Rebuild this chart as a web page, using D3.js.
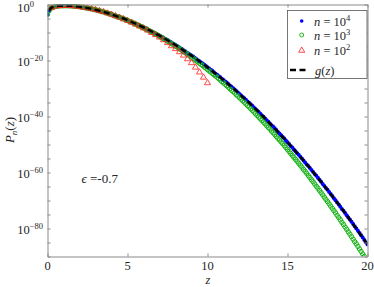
<!DOCTYPE html>
<html>
<head>
<meta charset="utf-8">
<script src="https://cdn.jsdelivr.net/npm/d3@7"></script>
<style>
  body { margin: 0; background: #fff; }
  svg { display: block; }
  text { font-family: "Liberation Serif", "DejaVu Serif", serif; fill: #262626; }
</style>
</head>
<body>
<div id="chart"></div>
<script>
// log10 of P_n(z)
// n = 10^4, z = 0 .. 20 step 0.1 (one row per unit of z)
var blueLog = [
  -3.6,-2.2,-1.4,-1.0,-0.8,-0.65,-0.56,-0.5,-0.47,-0.45,
  -0.44,-0.43,-0.43,-0.44,-0.46,-0.49,-0.53,-0.58,-0.64,-0.71,
  -0.8,-0.89,-0.98,-1.07,-1.17,-1.28,-1.39,-1.51,-1.63,-1.76,
  -1.9,-2.04,-2.18,-2.34,-2.49,-2.65,-2.82,-2.99,-3.16,-3.34,
  -3.53,-3.7,-3.9,-4.1,-4.3,-4.5,-4.7,-4.9,-5.2,-5.4,
  -5.6,-5.9,-6.1,-6.3,-6.6,-6.8,-7.1,-7.3,-7.6,-7.9,
  -8.2,-8.4,-8.7,-9.0,-9.3,-9.6,-9.9,-10.2,-10.5,-10.8,
  -11.1,-11.4,-11.7,-12.1,-12.4,-12.7,-13.1,-13.4,-13.8,-14.1,
  -14.5,-14.8,-15.2,-15.6,-15.9,-16.3,-16.7,-17.1,-17.5,-17.9,
  -18.2,-18.6,-19.0,-19.5,-19.9,-20.3,-20.7,-21.1,-21.5,-22.0,
  -22.4,-22.9,-23.3,-23.7,-24.2,-24.7,-25.1,-25.6,-26.0,-26.5,
  -27.0,-27.5,-27.9,-28.4,-28.9,-29.4,-29.9,-30.4,-30.9,-31.4,
  -32.0,-32.5,-33.0,-33.5,-34.0,-34.6,-35.1,-35.6,-36.2,-36.8,
  -37.3,-37.9,-38.4,-39.0,-39.6,-40.1,-40.7,-41.3,-41.9,-42.5,
  -43.1,-43.6,-44.2,-44.8,-45.5,-46.1,-46.7,-47.3,-47.9,-48.6,
  -49.2,-49.8,-50.5,-51.1,-51.8,-52.4,-53.1,-53.7,-54.4,-55.0,
  -55.7,-56.4,-57.1,-57.7,-58.4,-59.1,-59.8,-60.5,-61.2,-61.9,
  -62.6,-63.3,-64.1,-64.8,-65.5,-66.2,-67.0,-67.7,-68.4,-69.2,
  -69.9,-70.7,-71.4,-72.2,-73.0,-73.7,-74.5,-75.3,-76.1,-76.8,
  -77.6,-78.4,-79.2,-80.0,-80.8,-81.6,-82.4,-83.2,-84.1,-84.9,
  -85.7
];
// n = 10^3, same z grid
var greenLog = [
  -3.6,-2.2,-1.4,-1.0,-0.8,-0.65,-0.56,-0.5,-0.47,-0.45,
  -0.44,-0.43,-0.43,-0.44,-0.46,-0.49,-0.53,-0.58,-0.64,-0.71,
  -0.8,-0.89,-0.98,-1.07,-1.17,-1.28,-1.39,-1.51,-1.63,-1.76,
  -1.9,-2.04,-2.18,-2.34,-2.49,-2.65,-2.82,-2.99,-3.16,-3.34,
  -3.6,-3.8,-4.0,-4.2,-4.4,-4.6,-4.8,-5.0,-5.2,-5.5,
  -5.7,-6.0,-6.2,-6.4,-6.7,-7.0,-7.2,-7.5,-7.8,-8.0,
  -8.3,-8.6,-8.9,-9.2,-9.5,-9.8,-10.1,-10.4,-10.7,-11.0,
  -11.4,-11.7,-12.0,-12.4,-12.7,-13.1,-13.4,-13.8,-14.1,-14.5,
  -14.9,-15.2,-15.6,-16.0,-16.4,-16.8,-17.2,-17.6,-18.0,-18.4,
  -18.8,-19.2,-19.6,-20.1,-20.5,-21.0,-21.4,-21.8,-22.3,-22.7,
  -23.2,-23.7,-24.1,-24.6,-25.1,-25.5,-26.0,-26.5,-27.0,-27.5,
  -28.0,-28.5,-29.0,-29.5,-30.1,-30.6,-31.1,-31.6,-32.2,-32.7,
  -33.3,-33.8,-34.4,-34.9,-35.5,-36.1,-36.6,-37.2,-37.8,-38.4,
  -39.0,-39.6,-40.2,-40.8,-41.4,-42.0,-42.6,-43.3,-43.9,-44.5,
  -45.2,-45.8,-46.4,-47.1,-47.8,-48.4,-49.1,-49.7,-50.4,-51.1,
  -51.8,-52.5,-53.2,-53.9,-54.6,-55.3,-56.0,-56.7,-57.4,-58.1,
  -58.9,-59.6,-60.3,-61.1,-61.8,-62.6,-63.3,-64.1,-64.9,-65.6,
  -66.4,-67.2,-68.0,-68.8,-69.6,-70.4,-71.2,-72.0,-72.8,-73.6,
  -74.4,-75.3,-76.1,-76.9,-77.8,-78.6,-79.5,-80.3,-81.2,-82.0,
  -82.9,-83.8,-84.7,-85.5,-86.4,-87.3,-88.2,-89.1,-90.0,-91.0,
  -91.9
];
// n = 10^2, z = 0.25 .. 10 step 0.25
var redLog = [
  -1.2,-0.65,-0.48,-0.44,-0.43,-0.49,-0.61,-0.81,-1.02,-1.28,
  -1.57,-1.9,-2.26,-2.65,-3.12,-3.58,-4.1,-4.62,-5.2,-5.77,
  -6.41,-7.09,-7.78,-8.46,-9.2,-10.04,-10.83,-11.71,-12.66,-13.7,
  -14.8,-15.83,-16.93,-18.16,-19.47,-20.85,-22.46,-24.19,-26.04,-28.02
];
// g(z)
var gZ = [0.1,0.2,0.3,0.5,0.7,1,1.5,2,2.5,3,3.5,4,5,6,7,8,9,10,11,12,13,14,15,16,17,18,19,20];
var gLog = [-2.2,-1.4,-1.0,-0.65,-0.5,-0.44,-0.49,-0.8,-1.28,-1.9,-2.65,-3.53,-5.62,-8.16,-11.11,-14.48,-18.25,-22.42,-26.99,-31.95,-37.31,-43.05,-49.19,-55.72,-62.64,-69.94,-77.64,-85.72];

var xTicks = [0, 5, 10, 15, 20];
var yLabelExp = [0, -20, -40, -60, -80];
var yTickExp = [0,-5,-10,-15,-20,-25,-30,-35,-40,-45,-50,-55,-60,-65,-70,-75,-80,-85,-90];

// sampling grids of the simulations
var zFine = blueLog.map((d, i) => i / 10);
var zRed = redLog.map((d, i) => (i + 1) / 4);

var svgWidth = 374, svgHeight = 287;
var margin = {top: 4.5, right: 6.5, bottom: 30.5, left: 47.5};
var width = svgWidth - margin.left - margin.right;
var height = svgHeight - margin.top - margin.bottom;

var svg = d3.select("#chart").append("svg")
  .attr("width", svgWidth)
  .attr("height", svgHeight);

var chartGroup = svg.append("g")
  .attr("transform", `translate(${margin.left}, ${margin.top})`);

var x = d3.scaleLinear().domain([0, 20]).range([0, width]);
var y = d3.scaleLog().domain([1e-90, 1]).range([height, 0]);
var py = e => y(Math.pow(10, e));

svg.append("defs").append("clipPath").attr("id", "plotclip")
  .append("rect").attr("x", 0).attr("y", 0).attr("width", width).attr("height", height);

var plot = chartGroup.append("g").attr("clip-path", "url(#plotclip)");

// n = 10^4 dots
plot.append("g").selectAll("circle")
  .data(blueLog)
  .enter().append("circle")
  .attr("cx", (d, i) => x(zFine[i]))
  .attr("cy", d => py(d))
  .attr("r", 2)
  .attr("fill", "#0000ff");

// n = 10^3 circles
plot.append("g").selectAll("circle")
  .data(greenLog)
  .enter().append("circle")
  .attr("cx", (d, i) => x(zFine[i]))
  .attr("cy", d => py(d))
  .attr("r", 2.2)
  .attr("fill", "none")
  .attr("stroke", "#10b010")
  .attr("stroke-width", 1);

// n = 10^2 triangles
var tri = d3.symbol().type(d3.symbolTriangle).size(16);
plot.append("g").selectAll("path")
  .data(redLog)
  .enter().append("path")
  .attr("d", tri)
  .attr("transform", (d, i) => `translate(${x(zRed[i])},${py(d)})`)
  .attr("fill", "none")
  .attr("stroke", "#ff2020")
  .attr("stroke-width", 0.8);

// g(z) dashed
var gLine = d3.line()
  .x((d, i) => x(gZ[i]))
  .y(d => py(d))
  .curve(d3.curveMonotoneX);
plot.append("path")
  .datum(gLog)
  .attr("d", gLine)
  .attr("fill", "none")
  .attr("stroke", "#000")
  .attr("stroke-width", 2.4)
  .attr("stroke-dasharray", "6,3.5");

// axes box with inward ticks
var axisColor = "#8a8a8a";
var yTickVals = yTickExp.map(e => Math.pow(10, e));
function styleAxis(g) {
  g.select(".domain").attr("stroke", axisColor);
  g.selectAll(".tick line").attr("stroke", axisColor);
  g.selectAll(".tick text").remove();
}
chartGroup.append("g")
  .attr("transform", `translate(0,${height})`)
  .call(d3.axisBottom(x).tickValues(xTicks).tickSizeInner(-3).tickSizeOuter(0))
  .call(styleAxis);
chartGroup.append("g")
  .call(d3.axisTop(x).tickValues(xTicks).tickSizeInner(-3).tickSizeOuter(0))
  .call(styleAxis);
chartGroup.append("g")
  .call(d3.axisLeft(y).tickValues(yTickVals).tickSizeInner(-3).tickSizeOuter(0))
  .call(styleAxis);
chartGroup.append("g")
  .attr("transform", `translate(${width},0)`)
  .call(d3.axisRight(y).tickValues(yTickVals).tickSizeInner(-3).tickSizeOuter(0))
  .call(styleAxis);

// x tick labels
chartGroup.append("g").selectAll("text")
  .data(xTicks)
  .enter().append("text")
  .attr("x", d => x(d))
  .attr("y", height + 13.5)
  .attr("text-anchor", "middle")
  .attr("font-size", "12.5px")
  .text(d => d);

// y tick labels 10^k
var yLab = chartGroup.append("g").selectAll("text")
  .data(yLabelExp)
  .enter().append("text")
  .attr("x", 17.3 - margin.left)
  .attr("y", d => d === 0 ? 7 : py(d) + 5.5)
  .attr("font-size", "12.5px");
yLab.append("tspan").text("10");
yLab.append("tspan").attr("dy", -5).attr("font-size", "8.5px")
  .text(d => d === 0 ? "0" : "\u2212" + (-d));

// axis labels
svg.append("text")
  .attr("x", 208)
  .attr("y", 284.2)
  .attr("text-anchor", "middle")
  .attr("font-size", "12.5px")
  .attr("font-style", "italic")
  .text("z");

var yTitle = svg.append("text")
  .attr("transform", "translate(14,130) rotate(-90)")
  .attr("text-anchor", "middle")
  .attr("font-size", "13px");
yTitle.append("tspan").attr("font-style", "italic").text("P");
yTitle.append("tspan").attr("font-style", "italic").attr("font-size", "9px").attr("dy", 3).text("n");
yTitle.append("tspan").attr("dy", -3).text("(");
yTitle.append("tspan").attr("font-style", "italic").text("z");
yTitle.append("tspan").text(")");

// epsilon annotation
var eps = svg.append("text").attr("x", 81.5).attr("y", 182.5).attr("font-size", "13px");
eps.append("tspan").attr("font-style", "italic").text("\u03f5");
eps.append("tspan").text(" =-0.7");

// legend
var legend = svg.append("g");
legend.append("rect")
  .attr("x", 287.5).attr("y", 10.5)
  .attr("width", 79.5).attr("height", 68)
  .attr("fill", "#fff")
  .attr("stroke", "#555")
  .attr("stroke-width", 0.8);

var legRows = [
  {y: 21, key: "4"},
  {y: 35, key: "3"},
  {y: 50.5, key: "2"}
];
legend.append("circle").attr("cx", 301.7).attr("cy", legRows[0].y).attr("r", 1.8).attr("fill", "#0000ff");
legend.append("circle").attr("cx", 301.7).attr("cy", legRows[1].y).attr("r", 2)
  .attr("fill", "none").attr("stroke", "#10b010").attr("stroke-width", 0.9);
legend.append("path").attr("d", tri).attr("transform", `translate(301.7,${legRows[2].y})`)
  .attr("fill", "none").attr("stroke", "#ff2020").attr("stroke-width", 0.8);
legend.append("line").attr("x1", 290).attr("x2", 308).attr("y1", 70).attr("y2", 70)
  .attr("stroke", "#000").attr("stroke-width", 2.4).attr("stroke-dasharray", "6,3.5");

legRows.forEach(function(r) {
  var t = legend.append("text").attr("x", 314).attr("y", r.y + 4.5).attr("font-size", "12.5px");
  t.append("tspan").attr("font-style", "italic").text("n");
  t.append("tspan").text(" = 10");
  t.append("tspan").attr("dy", -5).attr("font-size", "8.5px").text(r.key);
});
var gl = legend.append("text").attr("x", 315).attr("y", 74.5).attr("font-size", "12.5px");
gl.append("tspan").attr("font-style", "italic").text("g");
gl.append("tspan").text("(");
gl.append("tspan").attr("font-style", "italic").text("z");
gl.append("tspan").text(")");
</script>
</body>
</html>
